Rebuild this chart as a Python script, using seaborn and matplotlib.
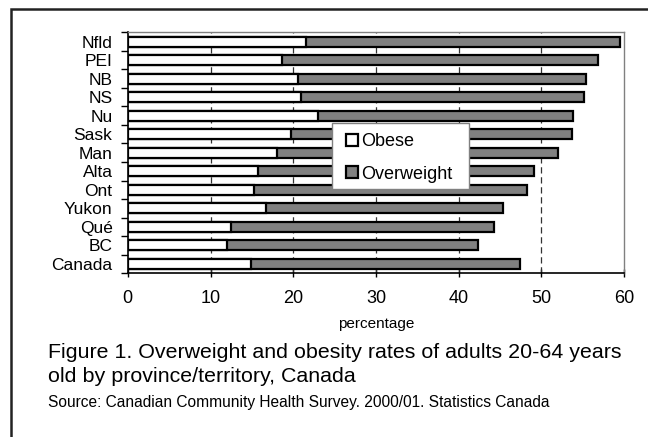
import matplotlib
matplotlib.use("Agg")
import matplotlib.pyplot as plt
from matplotlib.patches import Patch, Rectangle
from matplotlib.ticker import FixedLocator
import seaborn as sns
import pandas as pd

regions = ["Nfld", "PEI", "NB", "NS", "Nu", "Sask", "Man", "Alta",
           "Ont", "Yukon", "Qué", "BC", "Canada"]
obese = [21.5, 18.7, 20.6, 20.9, 23.0, 19.7, 18.0, 15.8, 15.3, 16.7, 12.5, 12.0, 14.9]
overweight = [38.0, 38.1, 34.8, 34.3, 30.8, 34.0, 34.0, 33.3, 32.9, 28.6, 31.8, 30.3, 32.5]
x_ticks = [0, 10, 20, 30, 40, 50, 60]

df = pd.DataFrame({"region": regions, "obese": obese, "overweight": overweight})
df["total"] = df["obese"] + df["overweight"]

sns.set_theme(style="white")
plt.rcParams["font.family"] = ["Liberation Sans", "DejaVu Sans"]
plt.rcParams["text.color"] = "black"
plt.rcParams["axes.labelcolor"] = "black"
plt.rcParams["xtick.color"] = "black"
plt.rcParams["ytick.color"] = "black"

fig = plt.figure(figsize=(6.48, 4.37), dpi=100)
ax = fig.add_axes([0.1972, 0.375, 0.766, 0.551])

bar_kw = dict(orient="h", width=0.55, edgecolor="black", linewidth=1.6, ax=ax, zorder=3)
sns.barplot(data=df, x="total", y="region", order=regions, color="#808080",
            saturation=1, **bar_kw)
sns.barplot(data=df, x="obese", y="region", order=regions, color="white",
            saturation=1, **bar_kw)

ax.set_xlim(0, 60)
ax.set_ylim(len(regions) - 0.5, -0.5)
ax.xaxis.set_major_locator(FixedLocator(x_ticks))
ax.set_xticklabels([str(t) for t in x_ticks], fontsize=13)
ax.set_xlabel("percentage", fontsize=11, labelpad=7)
ax.set_ylabel("")

# vertical gridlines
for t in x_ticks[1:-1]:
    ax.axvline(t, color="#333333", linewidth=0.9, linestyle=(0, (5, 3)), zorder=1)

# category boundary ticks on the value axis
ax.yaxis.set_minor_locator(FixedLocator([i - 0.5 for i in range(len(regions) + 1)]))
ax.tick_params(axis="y", which="major", length=0, pad=11, labelsize=12.5, labelcolor="black")
ax.tick_params(axis="y", which="minor", length=5, width=1, color="black", direction="out", left=True)
ax.tick_params(axis="x", which="major", length=6, width=1, color="black", direction="inout",
               bottom=True, pad=9, labelcolor="black")

for side in ["left", "bottom"]:
    ax.spines[side].set_color("black")
    ax.spines[side].set_linewidth(1.2)
for side in ["top", "right"]:
    ax.spines[side].set_color("#808080")
    ax.spines[side].set_linewidth(1.0)

# legend: white box with grey border, entries inset on the left
ax.add_patch(Rectangle((0.411, 0.349), 0.277, 0.275, transform=ax.transAxes,
                       facecolor="white", edgecolor="#808080", linewidth=1.0,
                       zorder=5, clip_on=False))
handles = [Patch(facecolor="white", edgecolor="black", linewidth=1.6, label="Obese"),
           Patch(facecolor="#808080", edgecolor="black", linewidth=1.6, label="Overweight")]
leg = ax.legend(handles=handles, loc="upper left", bbox_to_anchor=(0.439, 0.581),
                fontsize=13, frameon=False, handlelength=0.68, handleheight=0.68,
                handletextpad=0.2, labelspacing=0.85, borderpad=0, borderaxespad=0)
leg.set_zorder(6)

fig.text(48 / 648, 1 - 352 / 437, "Figure 1. Overweight and obesity rates of adults 20-64 years",
         fontsize=15.4, va="center", ha="left")
fig.text(48 / 648, 1 - 377 / 437, "old by province/territory, Canada",
         fontsize=15.4, va="center", ha="left")
fig.text(48 / 648, 1 - 402 / 437,
         "Source: Canadian Community Health Survey. 2000/01. Statistics Canada",
         fontsize=11.2, va="center", ha="left")

# outer frame around the figure panel
fig.add_artist(Rectangle((10.5 / 648, -0.2), 1.2, 1.2 - 9.0 / 437,
                         transform=fig.transFigure, fill=False,
                         edgecolor="#222222", linewidth=1.8))

fig.savefig("out.png", dpi=100)
